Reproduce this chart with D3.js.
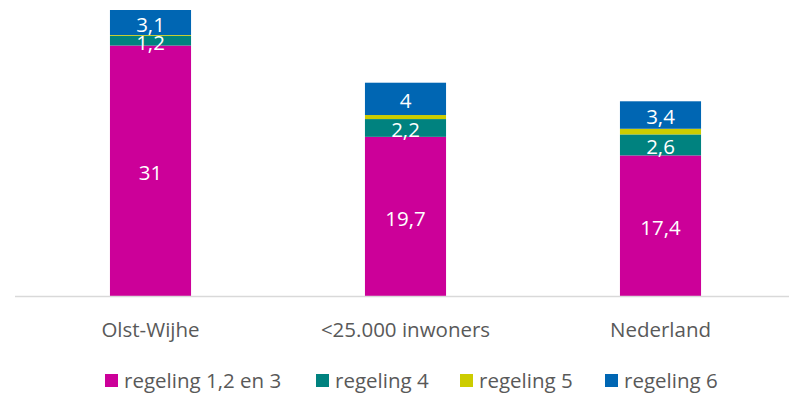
<!DOCTYPE html>
<html><head><meta charset="utf-8">
<script src="https://cdn.jsdelivr.net/npm/d3@7"></script>
<style>body{margin:0;background:#fff}svg{display:block}</style>
</head><body><svg id="c" width="789" height="394"></svg>
<script>
const categories = ["Olst-Wijhe", "<25.000 inwoners", "Nederland"];
const seriesNames = ["regeling 1,2 en 3", "regeling 4", "regeling 5", "regeling 6"];
const regeling123 = [31, 19.7, 17.4];
const regeling4 = [1.2, 2.2, 2.6];
const regeling5 = [0.1, 0.5, 0.7];
const regeling6 = [3.1, 4, 3.4];
const labels123 = ["31", "19,7", "17,4"];
const labels4 = ["1,2", "2,2", "2,6"];
const labels6 = ["3,1", "4", "3,4"];
const colors = ["#CC0099", "#00827F", "#CCCC00", "#0066B3"];

const svg = d3.select("#c");
const font = "'Open Sans', sans-serif";
const fs = 20.5;
const rows = categories.map((c, i) => ({cat: c, s0: regeling123[i], s1: regeling4[i], s2: regeling5[i], s3: regeling6[i]}));
const keys = ["s0", "s1", "s2", "s3"];
const labelSets = [labels123, labels4, null, labels6];
const stack = d3.stack().keys(keys)(rows);

const x = d3.scaleBand().domain(categories).range([23, 788]).paddingInner(0.682).paddingOuter(0.341);
const y = d3.scaleLinear().domain([0, 35.4]).range([296, 10]);

const g = svg.append("g");
stack.forEach((layer, li) => {
  g.selectAll(null).data(layer).enter().append("rect")
    .attr("x", d => x(d.data.cat))
    .attr("width", x.bandwidth())
    .attr("y", d => y(d[1]))
    .attr("height", d => y(d[0]) - y(d[1]))
    .attr("fill", colors[li]);
});
stack.forEach((layer, li) => {
  const ls = labelSets[li];
  if (!ls) return;
  g.selectAll(null).data(layer).enter().append("text")
    .attr("x", d => x(d.data.cat) + x.bandwidth() / 2)
    .attr("y", d => (y(d[0]) + y(d[1])) / 2 + 2)
    .attr("dy", "0.35em")
    .attr("text-anchor", "middle")
    .attr("fill", "#fff")
    .attr("font-family", font)
    .attr("font-size", fs)
    .text((d, i) => ls[i]);
});

// x axis
const xAxis = d3.axisBottom(x).tickSize(0).tickPadding(26);
const ax = svg.append("g").attr("transform", "translate(0,296)").call(xAxis);
ax.select(".domain").remove();
ax.selectAll("text").attr("dy", "0").attr("y", 41).attr("font-family", font).attr("font-size", fs).attr("fill", "#595959");
svg.append("line").attr("x1", 15).attr("x2", 789).attr("y1", 296.5).attr("y2", 296.5)
  .attr("stroke", "#D9D9D9").attr("stroke-width", 1.5);

// legend
const legX = [105, 316, 460, 605];
const leg = svg.append("g");
seriesNames.forEach((n, i) => {
  leg.append("rect").attr("x", legX[i]).attr("y", 374).attr("width", 13).attr("height", 13).attr("fill", colors[i]);
  leg.append("text").attr("x", legX[i] + 19).attr("y", 388)
    .attr("font-family", font).attr("font-size", fs).attr("fill", "#595959").text(n);
});
</script></body></html>
